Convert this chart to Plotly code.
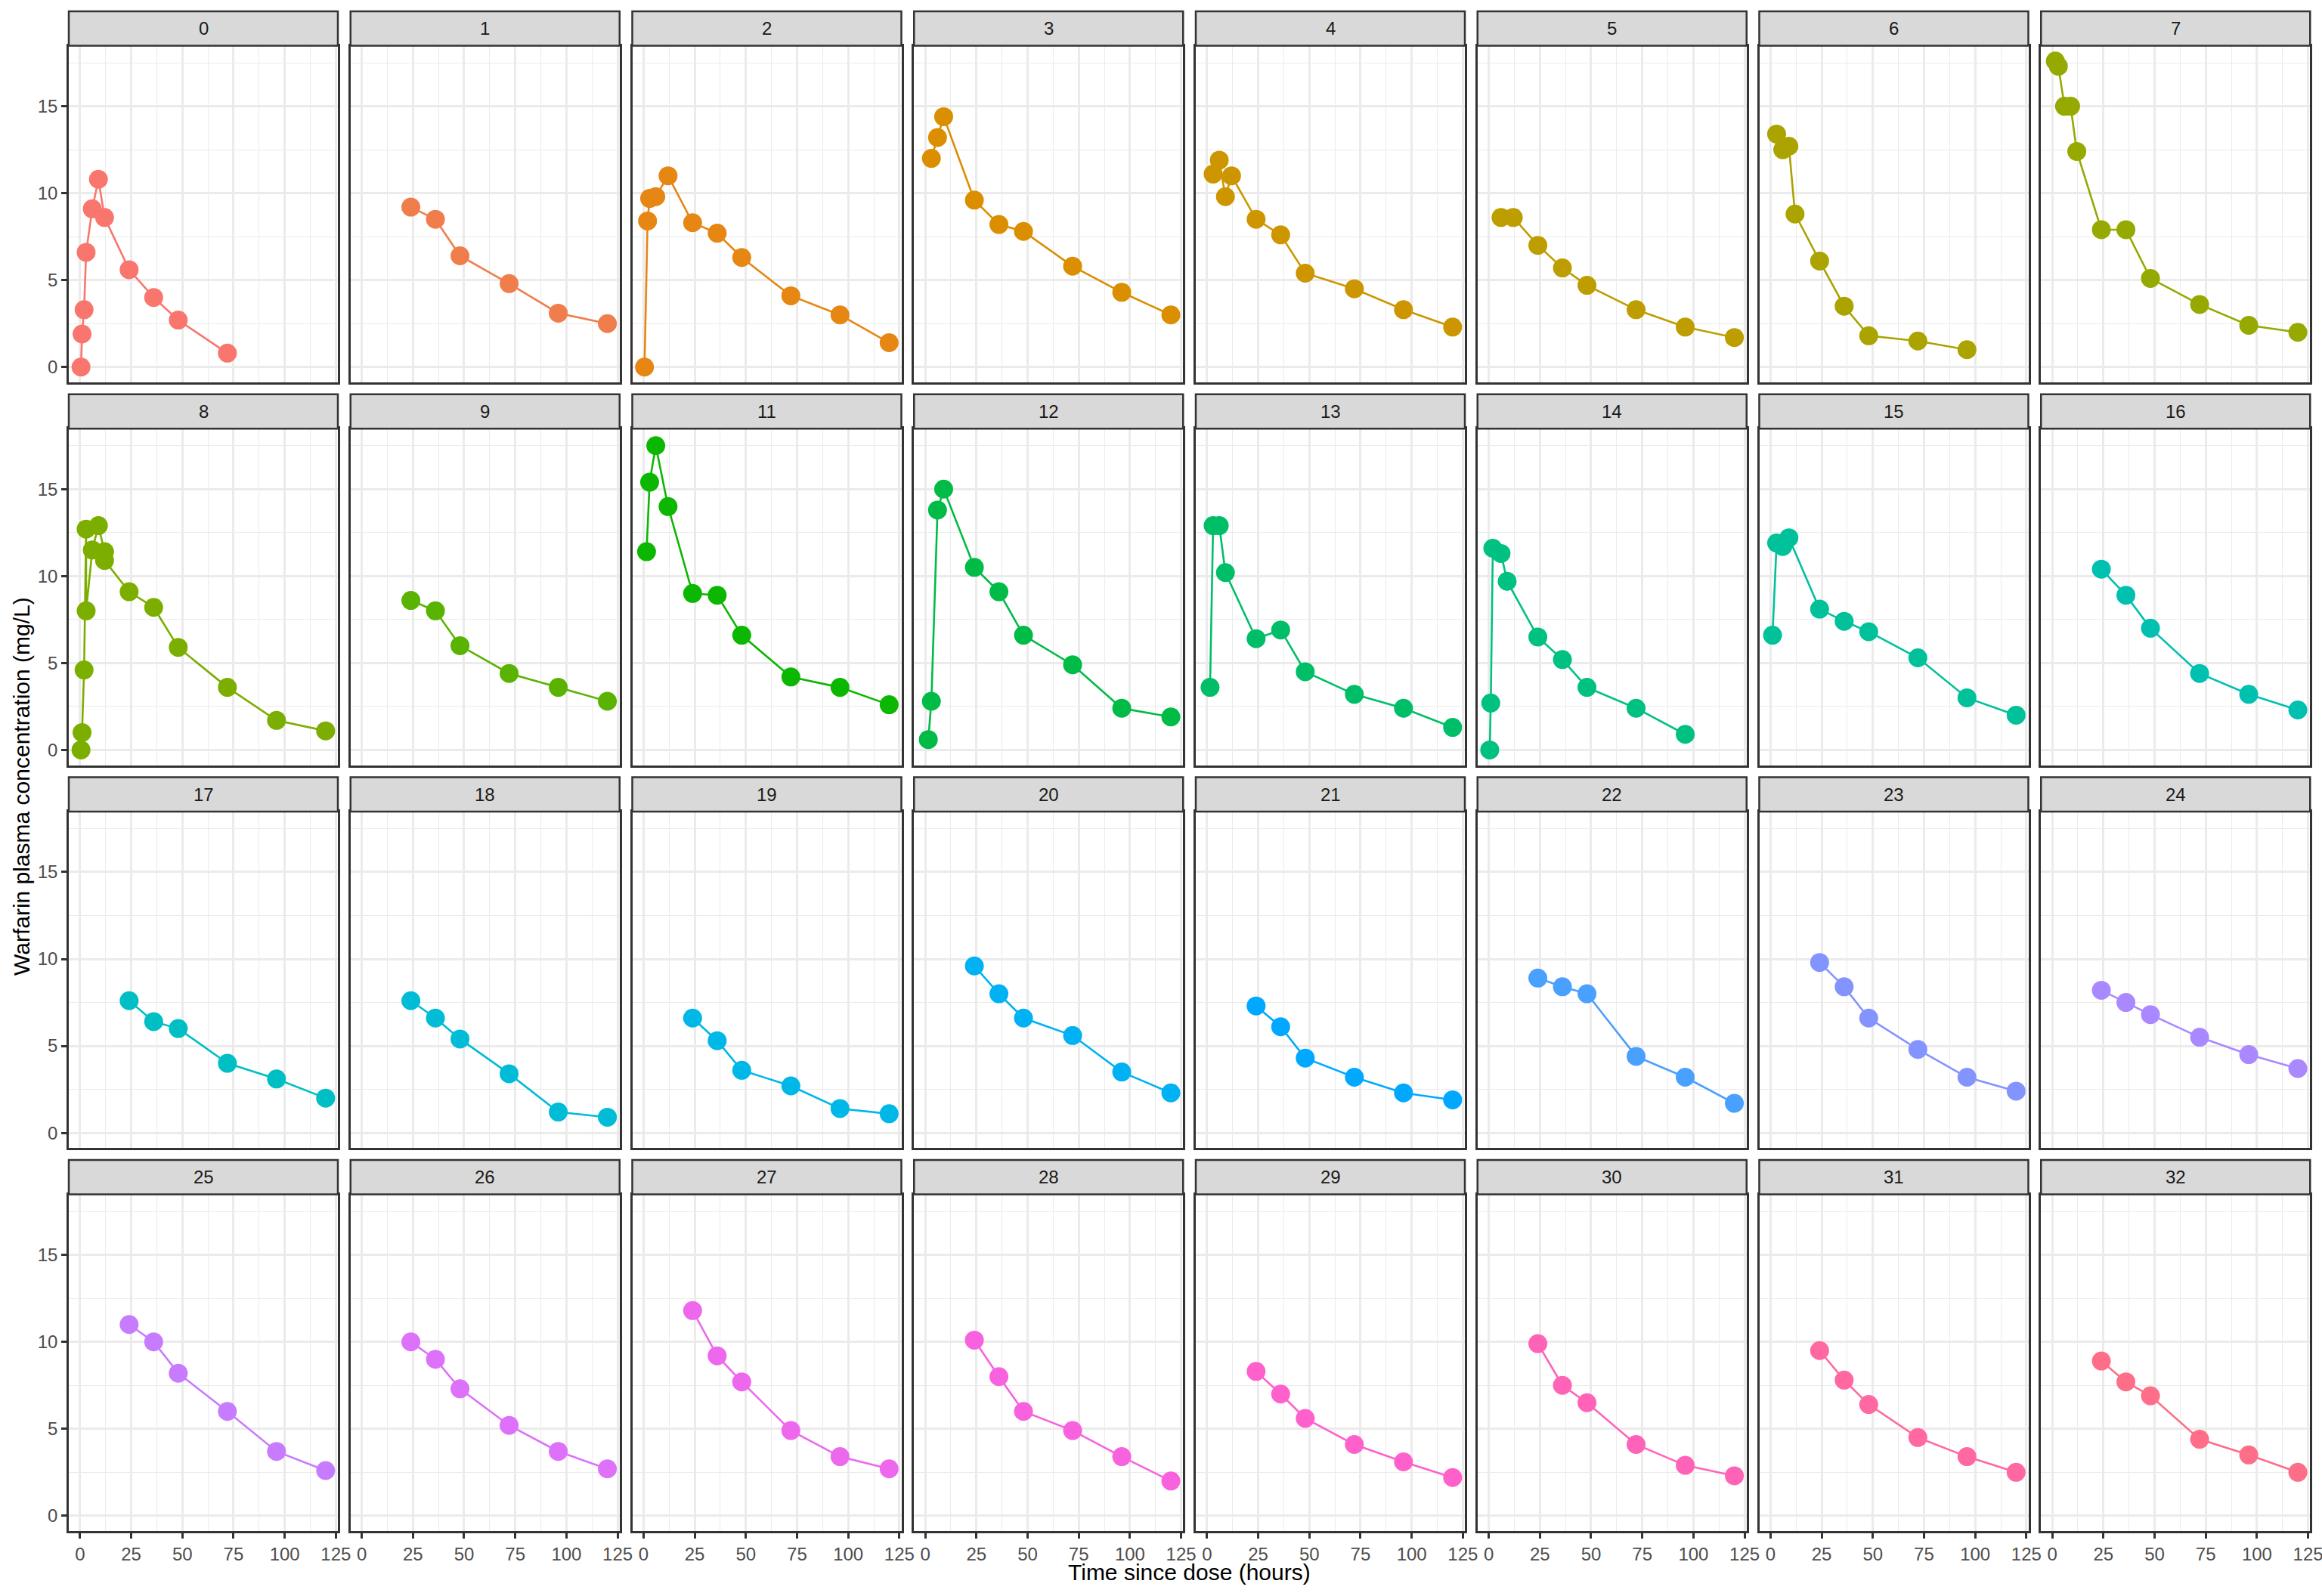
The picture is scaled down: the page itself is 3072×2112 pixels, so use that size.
import math
import plotly.graph_objects as go

# ---------------- data ----------------
panel_ids = [0, 1, 2, 3, 4, 5, 6, 7, 8, 9, 11, 12, 13, 14, 15, 16,
             17, 18, 19, 20, 21, 22, 23, 24, 25, 26, 27, 28, 29, 30, 31, 32]

late_times = [24, 36, 48, 72, 96, 120]

time_00 = [0.5, 1, 2, 3, 6, 9, 12, 24, 36, 48, 72]
conc_00 = [0.0, 1.9, 3.3, 6.6, 9.1, 10.8, 8.6, 5.6, 4.0, 2.7, 0.8]
time_01 = late_times
conc_01 = [9.2, 8.5, 6.4, 4.8, 3.1, 2.5]
time_02 = [0.5, 2, 3, 6, 12, 24, 36, 48, 72, 96, 120]
conc_02 = [0.0, 8.4, 9.7, 9.8, 11.0, 8.3, 7.7, 6.3, 4.1, 3.0, 1.4]
time_03 = [3, 6, 9, 24, 36, 48, 72, 96, 120]
conc_03 = [12.0, 13.2, 14.4, 9.6, 8.2, 7.8, 5.8, 4.3, 3.0]
time_04 = [3, 6, 9, 12, 24, 36, 48, 72, 96, 120]
conc_04 = [11.1, 11.9, 9.8, 11.0, 8.5, 7.6, 5.4, 4.5, 3.3, 2.3]
time_05 = [6, 12, 24, 36, 48, 72, 96, 120]
conc_05 = [8.6, 8.6, 7.0, 5.7, 4.7, 3.3, 2.3, 1.7]
time_06 = [3, 6, 9, 12, 24, 36, 48, 72, 96]
conc_06 = [13.4, 12.5, 12.7, 8.8, 6.1, 3.5, 1.8, 1.5, 1.0]
time_07 = [1.5, 3, 6, 9, 12, 24, 36, 48, 72, 96, 120]
conc_07 = [17.6, 17.3, 15.0, 15.0, 12.4, 7.9, 7.9, 5.1, 3.6, 2.4, 2.0]
time_08 = [0.5, 1, 2, 3, 3, 6, 9, 12, 12, 24, 36, 48, 72, 96, 120]
conc_08 = [0.0, 1.0, 4.6, 12.7, 8.0, 11.5, 12.9, 11.4, 10.9, 9.1, 8.2, 5.9, 3.6, 1.7, 1.1]
time_09 = late_times
conc_09 = [8.6, 8.0, 6.0, 4.4, 3.6, 2.8]
time_11 = [1.5, 3, 6, 12, 24, 36, 48, 72, 96, 120]
conc_11 = [11.4, 15.4, 17.5, 14.0, 9.0, 8.9, 6.6, 4.2, 3.6, 2.6]
time_12 = [1.5, 3, 6, 9, 24, 36, 48, 72, 96, 120]
conc_12 = [0.6, 2.8, 13.8, 15.0, 10.5, 9.1, 6.6, 4.9, 2.4, 1.9]
time_13 = [1.5, 3, 6, 9, 24, 36, 48, 72, 96, 120]
conc_13 = [3.6, 12.9, 12.9, 10.2, 6.4, 6.9, 4.5, 3.2, 2.4, 1.3]
time_14 = [0.5, 1, 2, 6, 9, 24, 36, 48, 72, 96]
conc_14 = [0.0, 2.7, 11.6, 11.3, 9.7, 6.5, 5.2, 3.6, 2.4, 0.9]
time_15 = [1, 3, 6, 9, 24, 36, 48, 72, 96, 120]
conc_15 = [6.6, 11.9, 11.7, 12.2, 8.1, 7.4, 6.8, 5.3, 3.0, 2.0]
conc_16 = [10.4, 8.9, 7.0, 4.4, 3.2, 2.3]
conc_17 = [7.6, 6.4, 6.0, 4.0, 3.1, 2.0]
conc_18 = [7.6, 6.6, 5.4, 3.4, 1.2, 0.9]
conc_19 = [6.6, 5.3, 3.6, 2.7, 1.4, 1.1]
conc_20 = [9.6, 8.0, 6.6, 5.6, 3.5, 2.3]
conc_21 = [7.3, 6.1, 4.3, 3.2, 2.3, 1.9]
conc_22 = [8.9, 8.4, 8.0, 4.4, 3.2, 1.7]
conc_23 = [9.8, 8.4, 6.6, 4.8, 3.2, 2.4]
conc_24 = [8.2, 7.5, 6.8, 5.5, 4.5, 3.7]
conc_25 = [11.0, 10.0, 8.2, 6.0, 3.7, 2.6]
conc_26 = [10.0, 9.0, 7.3, 5.2, 3.7, 2.7]
conc_27 = [11.8, 9.2, 7.7, 4.9, 3.4, 2.7]
conc_28 = [10.1, 8.0, 6.0, 4.9, 3.4, 2.0]
conc_29 = [8.3, 7.0, 5.6, 4.1, 3.1, 2.2]
conc_30 = [9.9, 7.5, 6.5, 4.1, 2.9, 2.3]
conc_31 = [9.5, 7.8, 6.4, 4.5, 3.4, 2.5]
conc_32 = [8.9, 7.7, 6.9, 4.4, 3.5, 2.5]

x_ticks = [0, 25, 50, 75, 100, 125]
y_ticks = [0, 5, 10, 15]
x_title = "Time since dose (hours)"
y_title = "Warfarin plasma concentration (mg/L)"

series = [
    (0, time_00, conc_00), (1, time_01, conc_01), (2, time_02, conc_02),
    (3, time_03, conc_03), (4, time_04, conc_04), (5, time_05, conc_05),
    (6, time_06, conc_06), (7, time_07, conc_07), (8, time_08, conc_08),
    (9, time_09, conc_09), (11, time_11, conc_11), (12, time_12, conc_12),
    (13, time_13, conc_13), (14, time_14, conc_14), (15, time_15, conc_15),
    (16, late_times, conc_16), (17, late_times, conc_17), (18, late_times, conc_18),
    (19, late_times, conc_19), (20, late_times, conc_20), (21, late_times, conc_21),
    (22, late_times, conc_22), (23, late_times, conc_23), (24, late_times, conc_24),
    (25, late_times, conc_25), (26, late_times, conc_26), (27, late_times, conc_27),
    (28, late_times, conc_28), (29, late_times, conc_29), (30, late_times, conc_30),
    (31, late_times, conc_31), (32, late_times, conc_32),
]


# ---------------- ggplot2 hue palette ----------------
def hcl_hex(h, c=100.0, l=65.0):
    WY, Wu, Wv = 100.0, 0.1978398, 0.4683363
    hr = math.radians(h)
    U, V = c * math.cos(hr), c * math.sin(hr)
    Y = WY * (((l + 16) / 116) ** 3 if l > 7.999592 else l / 903.3)
    u = U / (13 * l) + Wu
    v = V / (13 * l) + Wv
    X = 9.0 * Y * u / (4 * v)
    Z = -X / 3 - 5 * Y + 3 * Y / v

    def g(t):
        return 1.055 * t ** (1 / 2.4) - 0.055 if t > 0.00304 else 12.92 * t

    r = g((3.240479 * X - 1.537150 * Y - 0.498535 * Z) / WY)
    gg = g((-0.969256 * X + 1.875992 * Y + 0.041556 * Z) / WY)
    b = g((0.055648 * X - 0.204043 * Y + 1.057311 * Z) / WY)
    cl = [min(255, max(0, round(255 * t))) for t in (r, gg, b)]
    return "#%02X%02X%02X" % tuple(cl)


n = len(panel_ids)
colors = [hcl_hex((15 + 360.0 * i / n) % 360) for i in range(n)]

# ---------------- layout geometry ----------------
W, H = 3072, 2112
NCOL = 8
col_left0, col_pitch, col_w = 91.0, 372.75, 356.0
row_top0, row_pitch, strip_h, panel_total = 15.0, 506.7, 45.5, 491.0

all_t = [t for _, ts, _ in series for t in ts]
all_c = [c for _, _, cs in series for c in cs]
tmin, tmax = min(all_t), max(all_t)
cmin, cmax = min(all_c), max(all_c)
xr = [tmin - 0.05 * (tmax - tmin), tmax + 0.05 * (tmax - tmin)]
yr = [cmin - 0.05 * (cmax - cmin), cmax + 0.05 * (cmax - cmin)]

FONT = "Liberation Sans, Arial, Helvetica, sans-serif"
GRID = "#EBEBEB"
DARK = "#333333"

fig = go.Figure()
layout = dict(
    width=W, height=H, autosize=False,
    margin=dict(l=0, r=0, t=0, b=0, pad=0, autoexpand=False),
    paper_bgcolor="white", plot_bgcolor="white",
    showlegend=False,
    font=dict(family=FONT, size=24, color="#4D4D4D"),
)
shapes = []
annotations = []
nrows = (n + NCOL - 1) // NCOL

for i, (sid, ts, cs) in enumerate(series):
    r, c = divmod(i, NCOL)
    left = col_left0 + c * col_pitch
    right = left + col_w
    stop = row_top0 + r * row_pitch
    ptop = stop + strip_h
    pbot = stop + panel_total
    xd = [left / W, right / W]
    yd = [1 - pbot / H, 1 - ptop / H]
    k = "" if i == 0 else str(i + 1)
    bottom_row = (r == nrows - 1)
    left_col = (c == 0)

    layout["xaxis" + k] = dict(
        domain=xd, range=xr, anchor="y" + k, automargin=False,
        tickvals=x_ticks, ticktext=[str(v) for v in x_ticks],
        showticklabels=bottom_row, ticks="outside" if bottom_row else "",
        ticklabeloverflow="allow",
        ticklen=7, tickwidth=2.5, tickcolor=DARK,
        tickfont=dict(family=FONT, size=24, color="#4D4D4D"),
        showgrid=True, gridcolor=GRID, gridwidth=2.8,
        minor=dict(dtick=12.5, tick0=0, showgrid=True, gridcolor=GRID, gridwidth=1.4),
        zeroline=False, showline=True, mirror=True, linecolor=DARK, linewidth=2.5,
        fixedrange=True,
    )
    layout["yaxis" + k] = dict(
        domain=yd, range=yr, anchor="x" + k, automargin=False,
        tickvals=y_ticks, ticktext=[str(v) for v in y_ticks],
        showticklabels=left_col, ticks="outside" if left_col else "",
        ticklabeloverflow="allow",
        ticklen=7, tickwidth=2.5, tickcolor=DARK,
        tickfont=dict(family=FONT, size=24, color="#4D4D4D"),
        showgrid=True, gridcolor=GRID, gridwidth=2.8,
        minor=dict(dtick=2.5, tick0=0, showgrid=True, gridcolor=GRID, gridwidth=1.4),
        zeroline=False, showline=True, mirror=True, linecolor=DARK, linewidth=2.5,
        fixedrange=True,
    )

    fig.add_trace(go.Scatter(
        x=ts, y=cs, mode="lines+markers",
        xaxis="x" + k, yaxis="y" + k,
        line=dict(color=colors[i], width=2.6),
        marker=dict(color=colors[i], size=25, line=dict(width=0)),
        cliponaxis=False, hoverinfo="skip",
    ))

    shapes.append(dict(
        type="rect", xref="paper", yref="paper",
        x0=xd[0], x1=xd[1], y0=1 - ptop / H, y1=1 - stop / H,
        fillcolor="#D9D9D9", line=dict(color=DARK, width=2.5), layer="above",
    ))
    annotations.append(dict(
        xref="paper", yref="paper", x=(xd[0] + xd[1]) / 2,
        y=1 - (stop + strip_h / 2) / H, text=str(sid), showarrow=False,
        xanchor="center", yanchor="middle",
        font=dict(family=FONT, size=24, color="#1A1A1A"),
    ))

panels_left = col_left0
panels_right = col_left0 + (NCOL - 1) * col_pitch + col_w

annotations.append(dict(
    xref="paper", yref="paper", x=(panels_left + panels_right) / 2 / W,
    y=1 - 2080 / H, text=x_title, showarrow=False,
    xanchor="center", yanchor="middle",
    font=dict(family=FONT, size=30, color="black"),
))
annotations.append(dict(
    xref="paper", yref="paper", x=28 / W,
    y=1 - 1041 / H, text=y_title, showarrow=False,
    xanchor="center", yanchor="middle", textangle=-90,
    font=dict(family=FONT, size=30, color="black"),
))

layout["shapes"] = shapes
layout["annotations"] = annotations
fig.update_layout(**layout)

fig.write_html("out.html")
